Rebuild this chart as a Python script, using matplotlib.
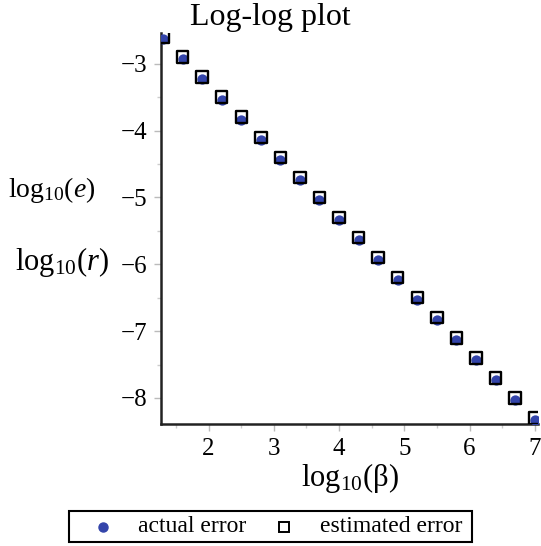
import matplotlib
matplotlib.use("Agg")
import matplotlib.pyplot as plt
from matplotlib.ticker import MultipleLocator
from matplotlib.lines import Line2D
from matplotlib.patches import Rectangle

log_beta = [1.3, 1.6, 1.9, 2.2, 2.5, 2.8, 3.1, 3.4, 3.7, 4.0, 4.3, 4.6, 4.9, 5.2, 5.5, 5.8, 6.1, 6.4, 6.7, 7.0]
log_est = [-2.60, -2.90, -3.20, -3.50, -3.80, -4.10, -4.40, -4.70, -5.00, -5.30,
           -5.60, -5.90, -6.20, -6.50, -6.80, -7.10, -7.40, -7.70, -8.00, -8.30]
log_act = [-2.635, -2.935, -3.235, -3.535, -3.835, -4.135, -4.435, -4.735, -5.035, -5.335,
           -5.635, -5.935, -6.235, -6.535, -6.835, -7.135, -7.435, -7.735, -8.035, -8.335]
x_ticks = [2, 3, 4, 5, 6, 7]
y_ticks = [-3, -4, -5, -6, -7, -8]
legend_labels = ['actual error', 'estimated error']

plt.rcParams['font.family'] = ['Liberation Serif', 'DejaVu Serif']
plt.rcParams['mathtext.fontset'] = 'custom'
plt.rcParams['mathtext.rm'] = 'Liberation Serif'
plt.rcParams['mathtext.it'] = 'Liberation Serif:italic'

fig = plt.figure(figsize=(5.41, 5.46), dpi=100)
W, H = 541, 546


def fx(px):
    return px / W


def fy(py):
    return 1 - py / H


ax = fig.add_axes([fx(161), fy(424), (538 - 161) / W, (424 - 33) / H])

blue = '#3344aa'
ax.scatter(log_beta, log_act, s=55, color=blue, zorder=3, linewidths=0)
ax.scatter(log_beta, log_est, s=68, marker='s', facecolors='none',
           edgecolors='black', linewidths=1.7, zorder=4)

ax.set_xlim(1.27, 7.05)
ax.set_ylim(-8.39, -2.54)
ax.set_xticks(x_ticks)
ax.set_yticks(y_ticks)
ax.set_yticklabels(['\u2212%d' % abs(v) for v in y_ticks])
ax.xaxis.set_minor_locator(MultipleLocator(0.5))
ax.yaxis.set_minor_locator(MultipleLocator(0.5))

for s in ['top', 'right']:
    ax.spines[s].set_visible(False)
for s in ['left', 'bottom']:
    ax.spines[s].set_linewidth(1.8)
    ax.spines[s].set_color('#222222')

ax.tick_params(axis='both', which='major', direction='out', length=5, width=1,
               color='#bbbbbb', labelsize=18, pad=5)
ax.tick_params(axis='both', which='minor', direction='out', length=3, width=1,
               color='#cccccc')

fig.text(fx(270), fy(17), 'Log-log plot', ha='center', va='center', fontsize=23)
fig.text(fx(52), fy(190), r'$\mathrm{log}_{10}(e)$', ha='center', va='center', fontsize=20)
fig.text(fx(62), fy(262), r'$\mathrm{log}_{10}(\mathit{r})$', ha='center', va='center', fontsize=22)
fig.text(fx(350), fy(478), r'$\mathrm{log}_{10}(\mathrm{\beta})$', ha='center', va='center', fontsize=22)

# legend drawn manually to match the box geometry
fig.add_artist(Rectangle((fx(69), fy(542)), (472 - 69) / W, (542 - 511) / H,
                         transform=fig.transFigure, facecolor='white',
                         edgecolor='black', linewidth=1.5))
fig.add_artist(Line2D([fx(103)], [fy(527)], marker='o', linestyle='none',
                      color=blue, markersize=6.5, transform=fig.transFigure))
fig.add_artist(Line2D([fx(284)], [fy(527)], marker='s', linestyle='none',
                      markerfacecolor='none', markeredgecolor='black',
                      markersize=7, markeredgewidth=1.4, transform=fig.transFigure))
fig.text(fx(138), fy(527), legend_labels[0], ha='left', va='center', fontsize=17)
fig.text(fx(320), fy(527), legend_labels[1], ha='left', va='center', fontsize=17)

fig.savefig('out.png', dpi=100)
